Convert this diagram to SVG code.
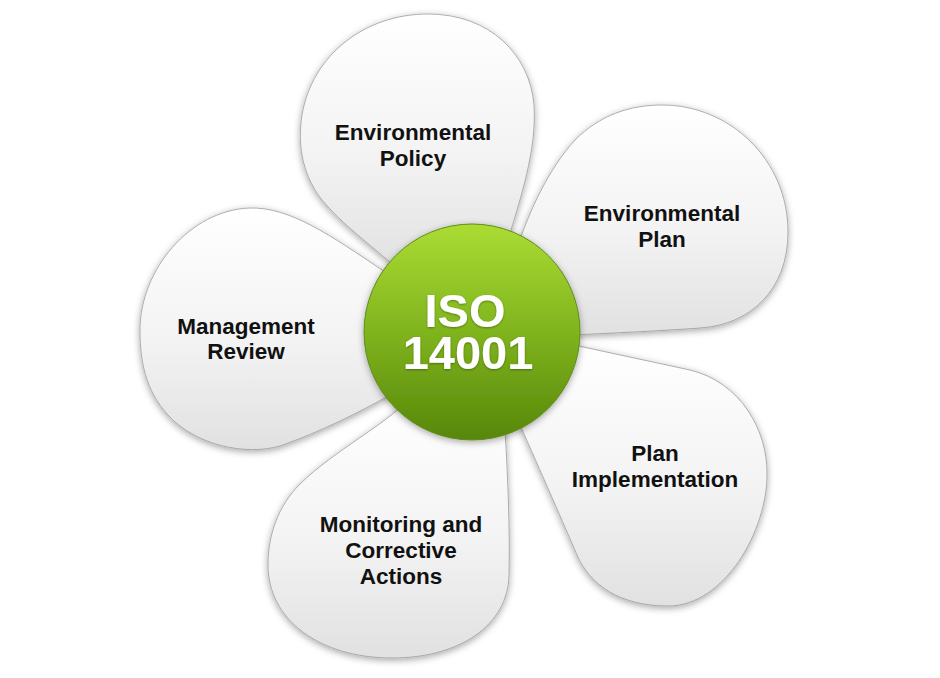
<svg xmlns="http://www.w3.org/2000/svg" width="940" height="678" viewBox="0 0 940 678">
<defs>
<linearGradient id="petalGrad" x1="0" y1="0" x2="0" y2="1">
<stop offset="0" stop-color="#ffffff"/>
<stop offset="0.55" stop-color="#f3f3f3"/>
<stop offset="1" stop-color="#e1e1e1"/>
</linearGradient>
<linearGradient id="hubGrad" x1="0" y1="0" x2="0" y2="1">
<stop offset="0" stop-color="#abdc34"/>
<stop offset="0.5" stop-color="#80b41e"/>
<stop offset="1" stop-color="#578709"/>
</linearGradient>
<filter id="shadow" x="-20%" y="-20%" width="140%" height="140%">
<feDropShadow dx="0" dy="2" stdDeviation="3.5" flood-color="#000" flood-opacity="0.35"/>
</filter>
<filter id="txtShadow" x="-10%" y="-30%" width="120%" height="160%">
<feDropShadow dx="0" dy="1" stdDeviation="0.8" flood-color="#000" flood-opacity="0.35"/>
</filter>
</defs>
<style>
.petal { fill: url(#petalGrad); stroke: #9c9c9c; stroke-width: 0.8; filter: url(#shadow); }
.hub { fill: url(#hubGrad); stroke: #5f8c1a; stroke-width: 1; filter: url(#shadow); }
.lbl { font-family: "Liberation Sans", Arial, Helvetica, sans-serif; font-weight: bold; font-size: 22.5px; fill: #111; text-anchor: middle; }
.hubtxt { font-family: "Liberation Sans", Arial, Helvetica, sans-serif; font-weight: bold; font-size: 47px; fill: #ffffff; text-anchor: middle; filter: url(#txtShadow); }
</style>
<rect x="0" y="0" width="940" height="678" fill="#ffffff"/>

<g id="petal-management-review">
<path class="petal" d="M 390,395 C 360,412 320,432 280,446 C 245,456 195,445 168,415 C 145,390 140,360 140,330 C 140,270 190,210 250,208 C 290,207 330,235 385,272 Z"/>
<text class="lbl" x="246" y="334">Management</text>
<text class="lbl" x="246" y="359">Review</text>
</g>

<g id="petal-monitoring">
<path class="petal" d="M 408,400 C 385,425 335,450 300,484 C 278,506 268,535 268,565 C 268,620 320,658 392,658 C 460,658 508,625 509,575 C 510,530 508,480 505,430 Z"/>
<text class="lbl" x="401" y="532">Monitoring and</text>
<text class="lbl" x="401" y="558">Corrective</text>
<text class="lbl" x="401" y="584">Actions</text>
</g>

<g id="petal-plan-implementation">
<path class="petal" d="M 560,342 L 690,370 C 740,382 768,430 767,475 C 767,530 725,606 668,606 C 620,606 590,585 577,555 C 565,527 540,470 520,425 Z"/>
<text class="lbl" x="655" y="461">Plan</text>
<text class="lbl" x="655" y="487">Implementation</text>
</g>

<g id="petal-environmental-plan">
<path class="petal" d="M 518,245 C 530,210 548,170 575,140 C 600,115 630,105 662,105 C 730,105 788,160 788,232 C 788,290 750,325 700,328 C 660,331 610,333 575,335 Z"/>
<text class="lbl" x="662" y="221">Environmental</text>
<text class="lbl" x="662" y="247">Plan</text>
</g>

<g id="petal-environmental-policy">
<path class="petal" d="M 402,272 C 370,245 340,222 322,200 C 300,172 298,140 302,115 C 312,55 365,14 428,14 C 490,14 530,55 534,105 C 537,150 520,200 508,240 Z"/>
<text class="lbl" x="413" y="140">Environmental</text>
<text class="lbl" x="413" y="166">Policy</text>
</g>

<g id="connectors"></g>

<g id="hub-iso14001">
<circle class="hub" cx="472" cy="332" r="108"/>
<text class="hubtxt"><tspan x="465" y="327">ISO</tspan><tspan x="468" y="369">14001</tspan></text>
</g>
</svg>
